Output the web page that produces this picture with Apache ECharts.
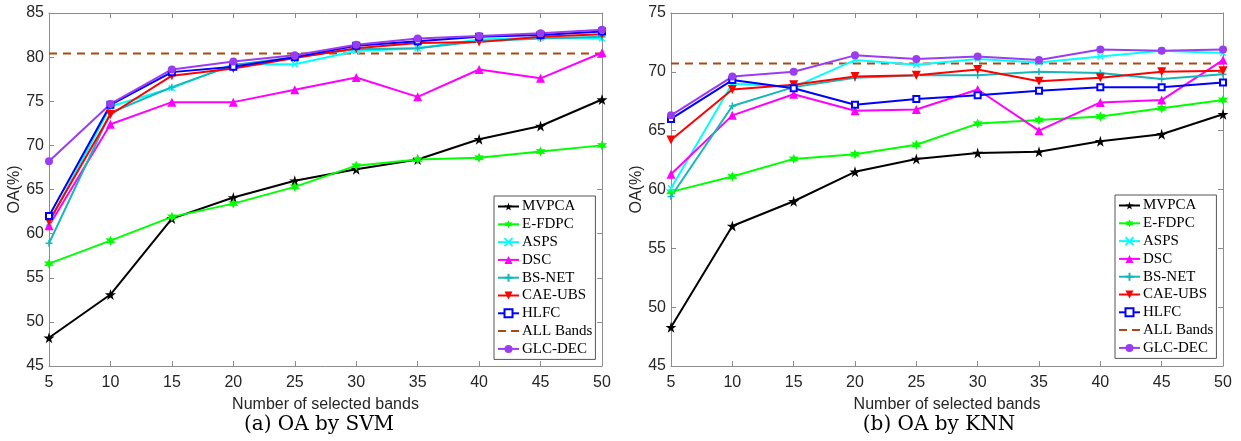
<!DOCTYPE html>
<html>
<head>
<meta charset="utf-8">
<script src="https://cdn.jsdelivr.net/npm/echarts@6/dist/echarts.min.js"></script>
<style>
  html, body { margin: 0; padding: 0; background: #fff; }
  #chart { width: 1241px; height: 441px; }
</style>
</head>
<body>
<div id="chart"></div>
<script>
// Number of selected bands (x axis)
const bands = [5, 10, 15, 20, 25, 30, 35, 40, 45, 50];

// (a) OA by SVM
const svmMVPCA  = [48.2, 53.1, 61.7, 64.1, 66.0, 67.3, 68.4, 70.7, 72.2, 75.2];
const svmEFDPC  = [56.6, 59.2, 61.9, 63.4, 65.3, 67.7, 68.4, 68.6, 69.3, 70.0];
const svmASPS   = [61.2, 74.4, 76.5, 79.2, 79.2, 80.7, 81.0, 82.0, 82.2, 82.1];
const svmDSC    = [60.9, 72.4, 74.9, 74.9, 76.3, 77.7, 75.5, 78.6, 77.6, 80.5];
const svmBSNET  = [58.9, 73.7, 76.6, 79.1, 80.0, 80.9, 81.0, 81.8, 82.1, 82.3];
const svmCAEUBS = [61.4, 73.5, 77.9, 78.7, 79.9, 81.0, 81.6, 81.7, 82.3, 82.6];
const svmHLFC   = [62.0, 74.6, 78.3, 78.9, 80.0, 81.3, 81.8, 82.3, 82.5, 82.9];
const svmGLCDEC = [68.2, 74.7, 78.6, 79.5, 80.2, 81.4, 82.1, 82.4, 82.7, 83.1];
const svmAllBands = 80.4;

// (b) OA by KNN
const knnMVPCA  = [48.3, 56.9, 59.0, 61.5, 62.6, 63.1, 63.2, 64.1, 64.7, 66.4];
const knnEFDPC  = [59.8, 61.1, 62.6, 63.0, 63.8, 65.6, 65.9, 66.2, 66.9, 67.6];
const knnASPS   = [60.1, 69.0, 68.7, 71.0, 70.6, 71.1, 70.8, 71.3, 71.8, 71.6];
const knnDSC    = [61.3, 66.3, 68.1, 66.7, 66.8, 68.5, 65.0, 67.4, 67.6, 71.0];
const knnBSNET  = [59.4, 67.1, 68.7, 69.5, 69.7, 69.7, 70.0, 69.9, 69.4, 69.8];
const knnCAEUBS = [64.2, 68.5, 68.9, 69.6, 69.7, 70.2, 69.2, 69.5, 70.0, 70.1];
const knnHLFC   = [66.0, 69.3, 68.6, 67.2, 67.7, 68.0, 68.4, 68.7, 68.7, 69.1];
const knnGLCDEC = [66.3, 69.6, 70.0, 71.4, 71.1, 71.3, 71.0, 71.9, 71.8, 71.9];
const knnAllBands = 70.7;

const methodNames = ['MVPCA', 'E-FDPC', 'ASPS', 'DSC', 'BS-NET', 'CAE-UBS', 'HLFC', 'ALL Bands', 'GLC-DEC'];

// Marker shapes
const STAR = 'path://M50,0 L61,35 L98,35 L68,57 L79,91 L50,70 L21,91 L32,57 L2,35 L39,35 Z';
const HEXAGRAM = 'path://M50,0 L62,28 L93,25 L75,50 L93,75 L62,72 L50,100 L38,72 L7,75 L25,50 L7,25 L38,28 Z';
const XMARK = 'path://M0,0 L10,10 M10,0 L0,10';
const PLUS = 'path://M5,0 L5,10 M0,5 L10,5';
const TRI_DOWN = 'path://M0,0 L10,0 L5,9 Z';
// Legend swatch for the dashed baseline: two short dashes
const DASH_ICON = 'path://M0,4 L8,4 L8,6 L0,6 Z M13,4 L21,4 L21,6 L13,6 Z';

const styles = {
  'MVPCA':   { color: '#000000', symbol: STAR, size: 11 },
  'E-FDPC':  { color: '#00ff00', symbol: HEXAGRAM, size: 10 },
  'ASPS':    { color: '#00ffff', symbol: XMARK, size: 6, stroke: true },
  'DSC':     { color: '#ff00ff', symbol: 'triangle', size: 9 },
  'BS-NET':  { color: '#17b6b8', symbol: PLUS, size: 7, stroke: true },
  'CAE-UBS': { color: '#ff0000', symbol: TRI_DOWN, size: 9 },
  'HLFC':    { color: '#0000ff', symbol: 'emptyRect', size: 6 },
  'GLC-DEC': { color: '#9b3cf0', symbol: 'circle', size: 8 }
};
const BASELINE_COLOR = '#a84a12';

function lineSeries(name, values, xi, yi) {
  const s = styles[name];
  let item = { color: s.color };
  if (s.stroke) item = { color: s.color, borderColor: s.color, borderWidth: 1.5 };
  if (s.symbol === 'emptyRect') item = { color: s.color, borderColor: s.color, borderWidth: 1.3 };
  return {
    name: name,
    type: 'line',
    xAxisIndex: xi,
    yAxisIndex: yi,
    data: bands.map((b, i) => [b, values[i]]),
    symbol: s.symbol,
    symbolSize: s.size,
    showSymbol: true,
    lineStyle: { color: s.color, width: 2 },
    itemStyle: item,
    animation: false,
    z: 3
  };
}

function baselineSeries(value, xi, yi) {
  return {
    name: 'ALL Bands',
    type: 'line',
    xAxisIndex: xi,
    yAxisIndex: yi,
    data: [[bands[0], value], [bands[bands.length - 1], value]],
    symbol: 'none',
    lineStyle: { color: BASELINE_COLOR, width: 2, type: [8, 6] },
    itemStyle: { color: BASELINE_COLOR },
    animation: false,
    z: 2
  };
}

function panelSeries(sets, allBands, xi, yi) {
  return [
    lineSeries('MVPCA', sets[0], xi, yi),
    lineSeries('E-FDPC', sets[1], xi, yi),
    lineSeries('ASPS', sets[2], xi, yi),
    lineSeries('DSC', sets[3], xi, yi),
    lineSeries('BS-NET', sets[4], xi, yi),
    lineSeries('CAE-UBS', sets[5], xi, yi),
    lineSeries('HLFC', sets[6], xi, yi),
    baselineSeries(allBands, xi, yi),
    lineSeries('GLC-DEC', sets[7], xi, yi)
  ];
}

const AXIS_GRAY = '#8c8c8c';
const TEXT = '#262626';
const SANS = '"Liberation Sans", Arial, sans-serif';
const SERIF = '"Liberation Serif", "Times New Roman", serif';
const CAPTION_SERIF = '"DejaVu Serif", serif';

function xAxes(gridIndex) {
  const common = {
    type: 'value', gridIndex: gridIndex, min: 5, max: 50, interval: 5,
    splitLine: { show: false },
    axisLine: { show: true, lineStyle: { color: AXIS_GRAY, width: 1 } },
    axisTick: { show: true, inside: true, length: 5, lineStyle: { color: AXIS_GRAY } }
  };
  return [
    Object.assign({}, common, {
      position: 'bottom',
      axisLabel: { color: TEXT, fontSize: 16, fontFamily: SANS, margin: 9 },
      name: 'Number of selected bands', nameLocation: 'middle', nameGap: 31,
      nameTextStyle: { color: TEXT, fontSize: 16, fontFamily: SANS }
    }),
    Object.assign({}, common, { position: 'top', axisLabel: { show: false } })
  ];
}

function yAxes(gridIndex, min, max) {
  const common = {
    type: 'value', gridIndex: gridIndex, min: min, max: max, interval: 5,
    splitLine: { show: false },
    axisLine: { show: true, lineStyle: { color: AXIS_GRAY, width: 1 } },
    axisTick: { show: true, inside: true, length: 5, lineStyle: { color: AXIS_GRAY } }
  };
  return [
    Object.assign({}, common, {
      position: 'left',
      axisLabel: { color: TEXT, fontSize: 16, fontFamily: SANS, margin: 5 },
      name: 'OA(%)', nameLocation: 'middle', nameGap: 21, nameRotate: 90,
      nameTextStyle: { color: TEXT, fontSize: 16, fontFamily: SANS }
    }),
    Object.assign({}, common, { position: 'right', axisLabel: { show: false } })
  ];
}

function legendAt(left, top) {
  return {
    orient: 'vertical',
    left: left, top: top,
    data: methodNames.map(n => n === 'ALL Bands' ? { name: n, icon: DASH_ICON } : n),
    backgroundColor: '#ffffff',
    borderColor: '#555555',
    borderWidth: 1,
    padding: [3, 3, 3, 3],
    itemWidth: 21,
    itemHeight: 10,
    itemGap: 2.8,
    selectedMode: false,
    textStyle: { fontFamily: SERIF, fontSize: 15, color: '#000', lineHeight: 15, padding: [0, 0, 0, -2] }
  };
}

const chart = echarts.init(document.getElementById('chart'), null, { renderer: 'canvas' });

chart.setOption({
  animation: false,
  backgroundColor: '#ffffff',
  grid: [
    { left: 49, top: 13, width: 553, height: 353, containLabel: false },
    { left: 671, top: 13, width: 552, height: 353, containLabel: false }
  ],
  xAxis: xAxes(0).concat(xAxes(1)),
  yAxis: yAxes(0, 45, 85).concat(yAxes(1, 45, 75)),
  legend: [legendAt(494, 196), legendAt(1115, 195)],
  series: panelSeries(
      [svmMVPCA, svmEFDPC, svmASPS, svmDSC, svmBSNET, svmCAEUBS, svmHLFC, svmGLCDEC],
      svmAllBands, 0, 0)
    .concat(panelSeries(
      [knnMVPCA, knnEFDPC, knnASPS, knnDSC, knnBSNET, knnCAEUBS, knnHLFC, knnGLCDEC],
      knnAllBands, 2, 2)),
  graphic: [
    { type: 'text', x: 319, y: 425, style: { text: '(a) OA by SVM', font: '20px ' + CAPTION_SERIF, fill: '#000', textAlign: 'center', textVerticalAlign: 'middle' } },
    { type: 'text', x: 939, y: 425, style: { text: '(b) OA by KNN', font: '20px ' + CAPTION_SERIF, fill: '#000', textAlign: 'center', textVerticalAlign: 'middle' } }
  ]
});
</script>
</body>
</html>
